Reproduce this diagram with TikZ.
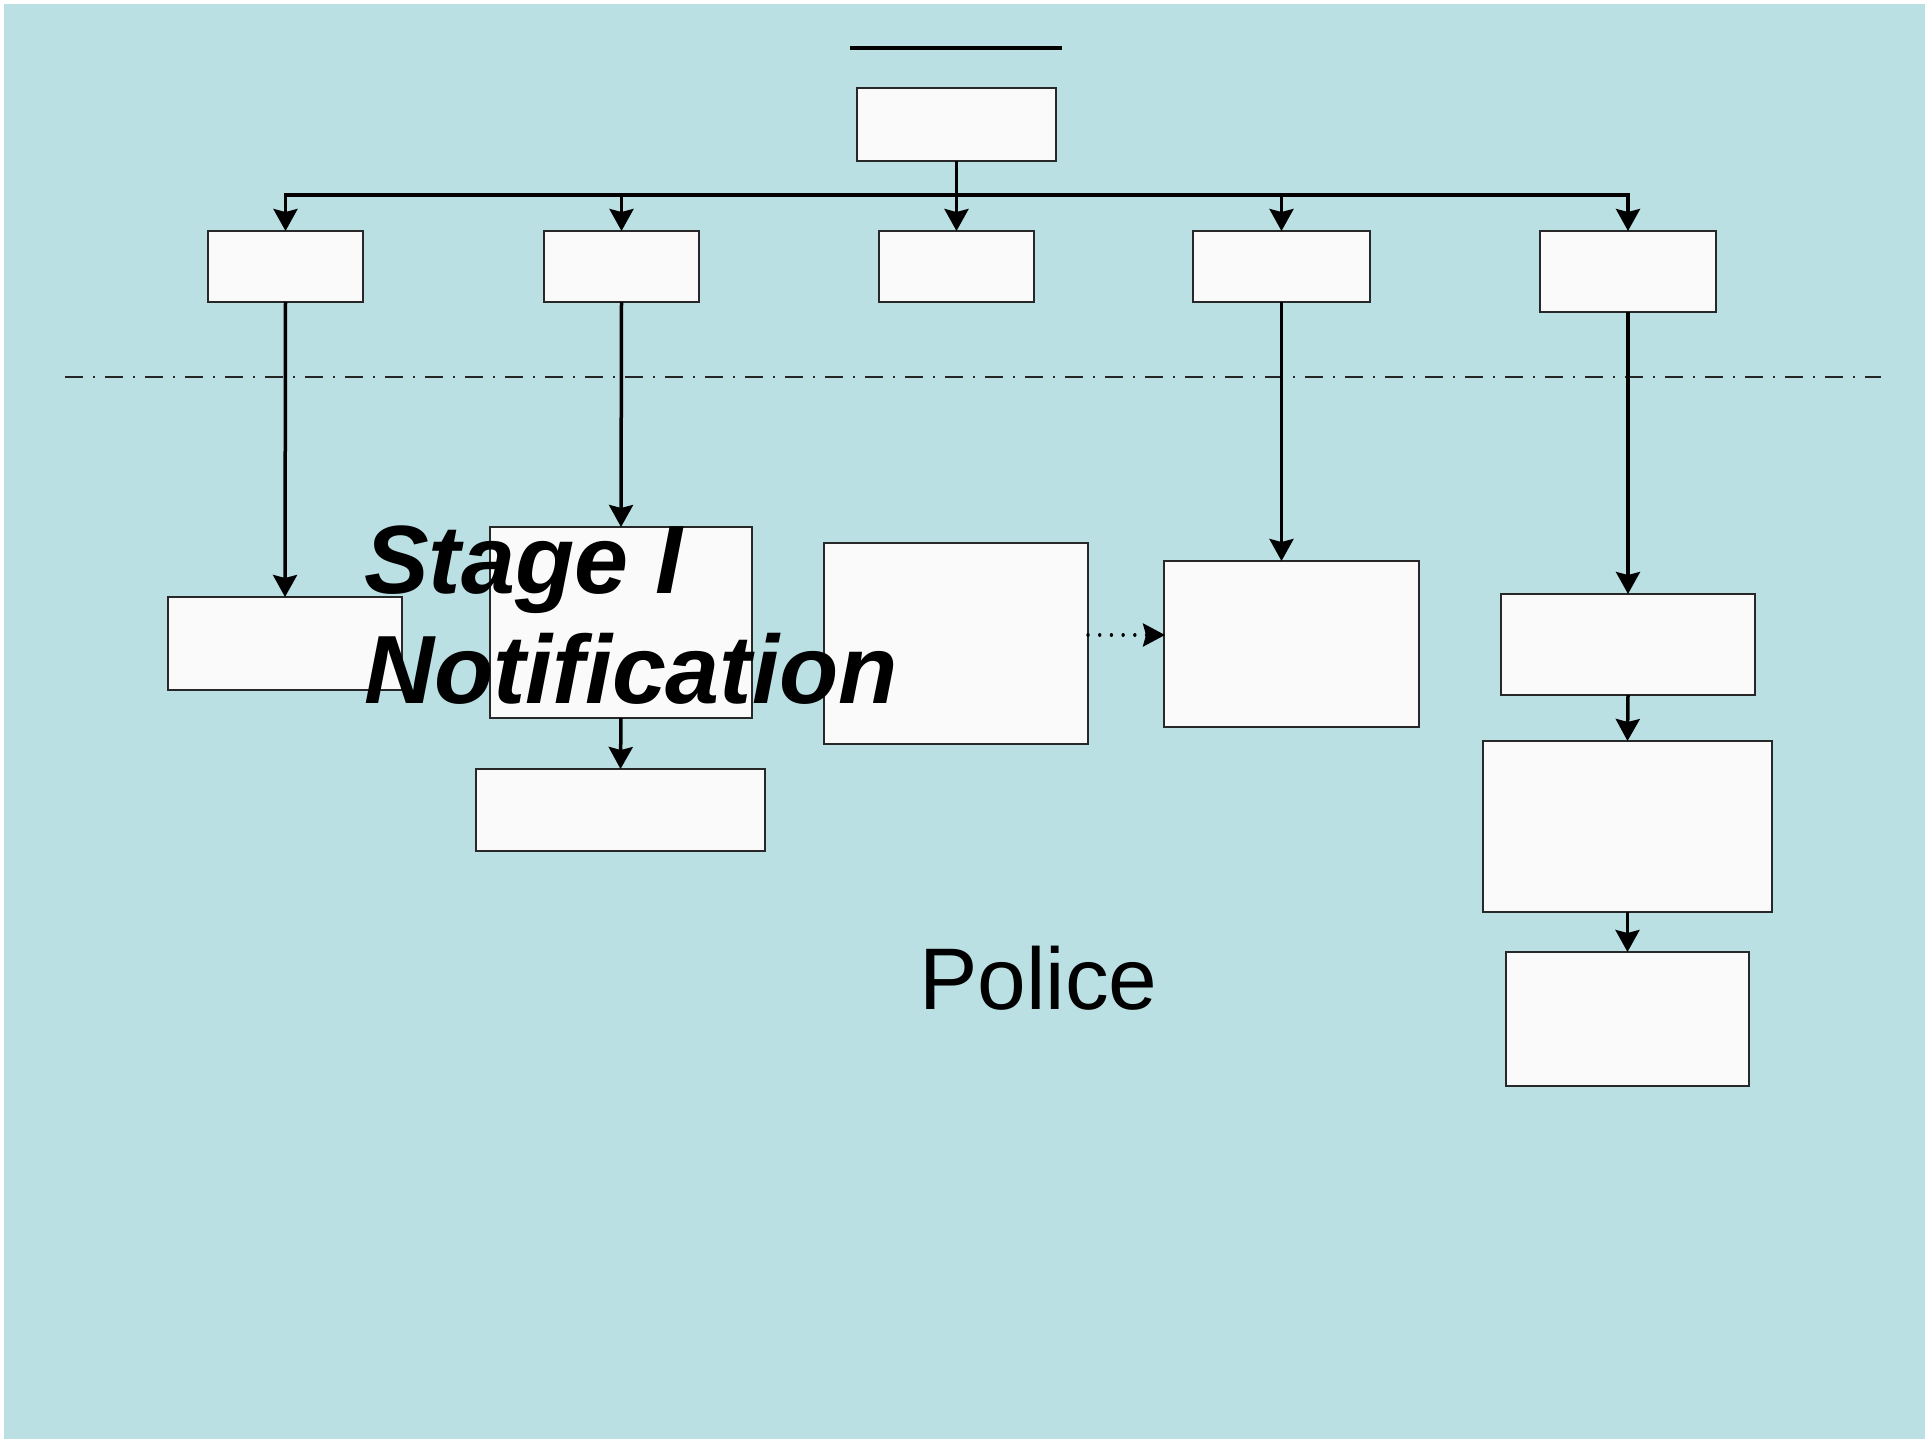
\documentclass[tikz,border=0pt]{standalone}
\usepackage{fontspec}
\newfontfamily\arialfont{Liberation Sans}
\usetikzlibrary{arrows.meta}
\definecolor{panel}{RGB}{186,224,227}
\definecolor{boxfill}{RGB}{250,250,250}
\definecolor{boxline}{RGB}{40,40,40}
\tikzset{
  box/.style={draw=boxline, fill=boxfill, line width=1.5pt, inner sep=0pt, outer sep=0pt},
  conn/.style={line width=3.5pt, line join=miter, -{Stealth[length=22pt,width=24pt,inset=3pt]}},
  dotconn/.style={line width=3.4pt, line cap=round, dash pattern=on 0.01pt off 11.7pt,
                  -{Stealth[length=22pt,width=23pt,inset=3pt]}},
  divider/.style={draw=black!85, line width=2pt, dash pattern=on 18pt off 10pt on 2pt off 10pt},
}
\begin{document}
\begin{tikzpicture}[x=1pt,y=-1pt]
  % page and panel
  \useasboundingbox (0,0) rectangle (1925,1439);
  \fill[white] (0,0) rectangle (1925,1439);
  \fill[panel] (4,4) rectangle (1925,1439);

  % heading rule
  \coordinate (ruleL) at (850,48);
  \coordinate (ruleR) at (1062,48);
  \draw[line width=3.6pt] (ruleL) -- (ruleR);

  % dash-dot divider
  \coordinate (divL) at (65,377);
  \coordinate (divR) at (1881,377);
  \draw[divider] (divL) -- (divR);

  % top box
  \node[box, minimum width=199pt, minimum height=73pt] (top) at (956.5,124.5) {};

  % second row
  \node[box, minimum width=155pt, minimum height=71pt] (b1) at (285.5,266.5) {};
  \node[box, minimum width=155pt, minimum height=71pt] (b2) at (621.5,266.5) {};
  \node[box, minimum width=155pt, minimum height=71pt] (b3) at (956.5,266.5) {};
  \node[box, minimum width=177pt, minimum height=71pt] (b4) at (1281.5,266.5) {};
  \node[box, minimum width=176pt, minimum height=81pt] (b5) at (1628,271.5) {};

  % lower boxes
  \node[box, minimum width=234pt, minimum height=93pt]  (A) at (285,643.5) {};
  \node[box, minimum width=262pt, minimum height=191pt] (B) at (621,622.5) {};
  \node[box, minimum width=264pt, minimum height=201pt] (C) at (956,643.5) {};
  \node[box, minimum width=255pt, minimum height=166pt] (D) at (1291.5,644) {};
  \node[box, minimum width=254pt, minimum height=101pt] (E) at (1628,644.5) {};
  \node[box, minimum width=289pt, minimum height=171pt] (F) at (1627.5,826.5) {};
  \node[box, minimum width=243pt, minimum height=134pt] (G) at (1627.5,1019) {};
  \node[box, minimum width=289pt, minimum height=82pt]  (H) at (620.5,810) {};

  % branching from the top box
  \coordinate (bar) at (956.5,195);
  \draw[conn] (top.south) -- (b3.north);
  \draw[conn] (bar) -| (b1.north);
  \draw[conn] (bar) -| (b2.north);
  \draw[conn] (bar) -| (b4.north);
  \draw[conn] (bar) -| (b5.north);

  % downward links
  \draw[conn] (b1.south) -- (A.north);
  \draw[conn] (b2.south) -- (B.north);
  \draw[conn] (b4.south) -- (b4.south |- D.north);
  \draw[conn] (b5.south) -- (E.north);
  \draw[conn] (B.south) -- (H.north);
  \draw[conn] (E.south) -- (F.north);
  \draw[conn] (F.south) -- (G.north);

  % dotted link
  \coordinate (dotA) at (1088,635);
  \coordinate (dotB) at (1165,635);
  \draw[dotconn] (dotA) -- (dotB);

  % labels
  \node[anchor=base west, inner sep=0pt, align=left, font=\arialfont\bfseries\itshape\fontsize{97}{110}\selectfont]
    (stage) at (364,703) {Stage I\\Notification};
  \node[anchor=base west, inner sep=0pt, font=\arialfont\fontsize{87.5}{100}\selectfont]
    (police) at (919,1009) {Police};
\end{tikzpicture}
\end{document}
